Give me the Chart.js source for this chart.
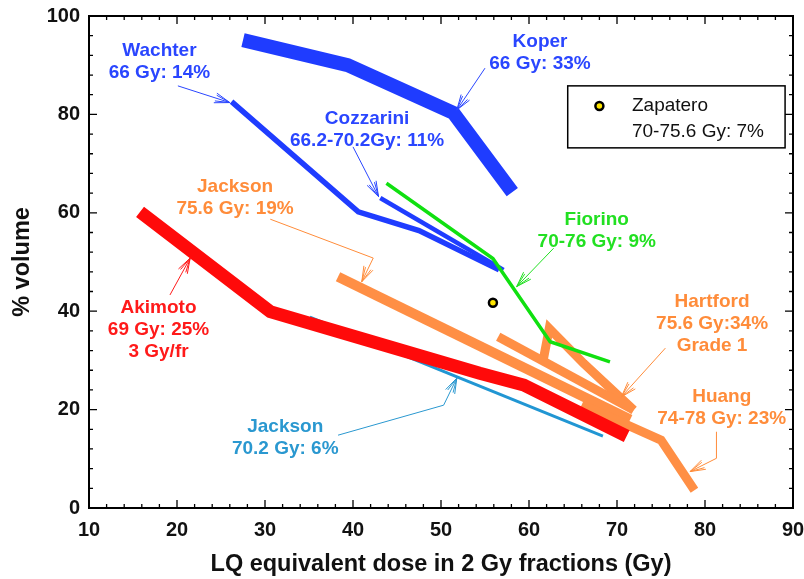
<!DOCTYPE html>
<html><head><meta charset="utf-8">
<script src="https://cdn.jsdelivr.net/npm/chart.js@4.4.1/dist/chart.umd.min.js"></script>
<style>html,body{margin:0;padding:0;background:#fff}#wrap{position:relative;width:804px;height:579px}</style>
</head><body><div id="wrap"><canvas id="c" width="804" height="579"></canvas></div>
<script>
// ---------- data (dose in Gy, % volume) ----------
const koperDose      = [27.5, 39.4, 51.4, 58.1];
const koperVol       = [95.1, 90.0, 80.3, 64.2];
const wachterDose    = [26.2, 40.6, 47.5, 56.6];
const wachterVol     = [82.6, 60.2, 56.4, 48.4];
const cozzariniDose  = [43.1, 57.1];
const cozzariniVol   = [63.0, 48.4];
const fiorinoDose    = [43.8, 55.9, 62.4, 69.2];
const fiorinoVol     = [66.0, 50.7, 33.8, 29.7];
const akimotoDose    = [15.8, 30.6, 54.4, 59.4, 71.1];
const akimotoVol     = [60.2, 39.9, 27.4, 25.0, 14.6];
const jackson70Dose  = [35.1, 68.4];
const jackson70Vol   = [38.8, 14.6];
const jackson75Dose  = [38.3, 71.5];
const jackson75Vol   = [47.0, 18.0];
const hartfordADose  = [56.5, 71.9];
const hartfordAVol   = [34.8, 19.9];
const hartfordBDose  = [61.6, 62.3, 66.2, 71.9];
const hartfordBVol   = [29.9, 36.5, 29.4, 19.9];
const huangDose      = [66.0, 75.0, 78.8];
const huangVol       = [21.0, 13.8, 3.6];
const zapateroDose   = [55.9];
const zapateroVol    = [41.7];

const xTicks = [10, 20, 30, 40, 50, 60, 70, 80, 90];
const yTicks = [0, 20, 40, 60, 80, 100];
const xMinorStep = 2, yMinorStep = 4;

const xTitle = 'LQ equivalent dose in 2 Gy fractions (Gy)';
const yTitle = '% volume';

// ---------- colours ----------
const BLUE = '#1f3cff', GREEN = '#10e010', RED = '#ff0a0a', ORANGE = '#ff8f45', LBLUE = '#2196d3';

// ---------- annotations (anchors in data units) ----------
const notes = [
  {lines:['Wachter','66 Gy: 14%'], at:[18.0, 92.9], color:'#2a46ff', arrow:[[20.1,85.8],[26.0,82.4]]},
  {lines:['Koper','66 Gy: 33%'], at:[61.25, 94.8], color:'#2a46ff', arrow:[[55.0,89.4],[51.8,80.9]]},
  {lines:['Cozzarini','66.2-70.2Gy: 11%'], at:[41.6, 79.2], color:'#2a46ff', arrow:[[40.0,73.4],[42.9,63.3]]},
  {lines:['Jackson','75.6 Gy: 19%'], at:[26.6, 65.3], color:'#ff8c3a', arrow:[[30.6,58.7],[42.3,50.8],[41.0,46.0]]},
  {lines:['Akimoto','69 Gy: 25%','3 Gy/fr'], at:[17.9, 40.6], color:'#ff1a1a', arrow:[[19.2,43.3],[21.5,50.8]]},
  {lines:['Jackson','70.2 Gy: 6%'], at:[32.3, 16.5], color:'#2a98d0', arrow:[[38.3,14.8],[50.3,20.9],[51.8,26.4]]},
  {lines:['Fiorino','70-76 Gy: 9%'], at:[67.7, 58.5], color:'#22e022', arrow:[[62.8,52.8],[58.6,45.0]]},
  {lines:['Hartford','75.6 Gy:34%','Grade 1'], at:[80.8, 41.9], color:'#ff8c3a', arrow:[[75.5,32.5],[70.5,22.6]]},
  {lines:['Huang','74-78 Gy: 23%'], at:[81.9, 22.6], color:'#ff8c3a', arrow:[[81.3,15.5],[81.3,10.1],[78.3,7.4]]}
];
const legendBox = {x1:64.4, y1:85.8, x2:89.1, y2:73.2, marker:[68.0, 81.7], textX:71.7, lines:['Zapatero','70-75.6 Gy: 7%']};

const pts = (xs, ys) => xs.map((x, i) => ({x, y: ys[i]}));
const FONT = "'Liberation Sans', Arial, sans-serif";

function lineSet(label, xs, ys, color, width) {
  return {label, data: pts(xs, ys), borderColor: color, backgroundColor: color, borderWidth: width,
    showLine: true, pointRadius: 0, pointHoverRadius: 0, tension: 0, borderCapStyle: 'butt', borderJoinStyle: 'miter', fill: false};
}

const datasets = [
  {label:'Zapatero', data: pts(zapateroDose, zapateroVol), showLine:false, pointRadius:4, pointBorderWidth:2.5,
   pointBackgroundColor:'#ffe600', pointBorderColor:'#000'},
  lineSet('Fiorino', fiorinoDose, fiorinoVol, GREEN, 3.5),
  lineSet('Koper', koperDose, koperVol, BLUE, 14),
  lineSet('Cozzarini', cozzariniDose, cozzariniVol, BLUE, 4.5),
  lineSet('Wachter', wachterDose, wachterVol, BLUE, 5.5),
  lineSet('Akimoto', akimotoDose, akimotoVol, RED, 13),
  lineSet('Huang', huangDose, huangVol, ORANGE, 9),
  lineSet('Hartford', hartfordADose, hartfordAVol, ORANGE, 9),
  lineSet('Hartford ', hartfordBDose, hartfordBVol, ORANGE, 9),
  lineSet('Jackson 75.6', jackson75Dose, jackson75Vol, ORANGE, 10),
  lineSet('Jackson 70.2', jackson70Dose, jackson70Vol, LBLUE, 3)
];

function drawArrow(ctx, p, color) {
  ctx.save();
  ctx.strokeStyle = color; ctx.lineWidth = 1;
  ctx.beginPath(); ctx.moveTo(p[0].x, p[0].y);
  for (let i = 1; i < p.length; i++) ctx.lineTo(p[i].x, p[i].y);
  const a = p[p.length - 1], b = p[p.length - 2];
  const ang = Math.atan2(a.y - b.y, a.x - b.x);
  for (const [da, len] of [[0.32, 16], [0.2, 15]]) {
    for (const s of [-1, 1]) {
      ctx.moveTo(a.x, a.y);
      ctx.lineTo(a.x - len * Math.cos(ang + s * da), a.y - len * Math.sin(ang + s * da));
    }
  }
  ctx.stroke();
  ctx.restore();
}

const framePlugin = {
  id: 'frame',
  afterDatasetsDraw(chart) {
    const ctx = chart.ctx, xs = chart.scales.x, ys = chart.scales.y;
    const {left, right, top, bottom} = chart.chartArea;
    ctx.save();
    for (const n of notes) {
      const cx = xs.getPixelForValue(n.at[0]), cy = ys.getPixelForValue(n.at[1]);
      ctx.fillStyle = n.color; ctx.font = 'bold 19px ' + FONT;
      ctx.textAlign = 'center'; ctx.textBaseline = 'middle';
      n.lines.forEach((t, i) => ctx.fillText(t, cx, cy + i * 22));
      drawArrow(ctx, n.arrow.map(q => ({x: xs.getPixelForValue(q[0]), y: ys.getPixelForValue(q[1])})), n.color);
    }
    const bx1 = xs.getPixelForValue(legendBox.x1), by1 = ys.getPixelForValue(legendBox.y1);
    const bx2 = xs.getPixelForValue(legendBox.x2), by2 = ys.getPixelForValue(legendBox.y2);
    ctx.fillStyle = '#fff'; ctx.fillRect(bx1, by1, bx2 - bx1, by2 - by1);
    ctx.strokeStyle = '#000'; ctx.lineWidth = 1.5; ctx.strokeRect(bx1, by1, bx2 - bx1, by2 - by1);
    const mx = xs.getPixelForValue(legendBox.marker[0]), my = ys.getPixelForValue(legendBox.marker[1]);
    ctx.beginPath(); ctx.arc(mx, my, 4, 0, Math.PI * 2); ctx.fillStyle = '#ffe600'; ctx.fill();
    ctx.lineWidth = 2.5; ctx.strokeStyle = '#000'; ctx.stroke();
    ctx.fillStyle = '#111'; ctx.font = '19px ' + FONT; ctx.textAlign = 'left'; ctx.textBaseline = 'middle';
    const tx = xs.getPixelForValue(legendBox.textX);
    legendBox.lines.forEach((t, i) => ctx.fillText(t, tx, my + i * 26));
    ctx.strokeStyle = '#000'; ctx.lineWidth = 2;
    ctx.strokeRect(left, top, right - left, bottom - top);
    ctx.lineWidth = 1.3;
    ctx.beginPath();
    for (let v = xs.min; v <= xs.max + 1e-9; v += xMinorStep) {
      const px = xs.getPixelForValue(v);
      const len = (Math.abs(v % 10) < 1e-6) ? 8 : 4;
      ctx.moveTo(px, bottom); ctx.lineTo(px, bottom - len);
      ctx.moveTo(px, top); ctx.lineTo(px, top + len);
    }
    for (let v = ys.min; v <= ys.max + 1e-9; v += yMinorStep) {
      const py = ys.getPixelForValue(v);
      const len = (Math.abs(v % 20) < 1e-6) ? 8 : 4;
      ctx.moveTo(left, py); ctx.lineTo(left + len, py);
      ctx.moveTo(right, py); ctx.lineTo(right - len, py);
    }
    ctx.stroke();
    ctx.restore();
  }
};

new Chart(document.getElementById('c'), {
  type: 'scatter',
  data: {datasets},
  plugins: [framePlugin],
  options: {
    responsive: false, animation: false, devicePixelRatio: 1,
    layout: {padding: {top: 16, right: 11, left: 0, bottom: 0}},
    plugins: {legend: {display: false}, tooltip: {enabled: false}},
    scales: {
      x: {type: 'linear', min: 10, max: 90, position: 'bottom',
        grid: {display: false, drawTicks: false}, border: {display: false},
        afterBuildTicks: s => { s.ticks = xTicks.map(v => ({value: v})); },
        ticks: {font: {family: FONT, size: 20, weight: 'bold'}, color: '#111', padding: 10, maxRotation: 0, autoSkip: false},
        title: {display: true, text: xTitle, color: '#111', font: {family: FONT, size: 23.5, weight: 'bold'}, padding: {top: 0, bottom: 0}},
        afterFit: s => { s.height = 71; s.paddingLeft = 0; s.paddingRight = 0; }
      },
      y: {type: 'linear', min: 0, max: 100, position: 'left',
        grid: {display: false, drawTicks: false}, border: {display: false},
        afterBuildTicks: s => { s.ticks = yTicks.map(v => ({value: v})); },
        ticks: {font: {family: FONT, size: 20, weight: 'bold'}, color: '#111', padding: 9, autoSkip: false},
        title: {display: true, text: yTitle, color: '#111', font: {family: FONT, size: 23.5, weight: 'bold'}, padding: {top: 8, bottom: 0}},
        afterFit: s => { s.width = 89; s.paddingTop = 0; s.paddingBottom = 0; }
      }
    }
  }
});
</script></body></html>
